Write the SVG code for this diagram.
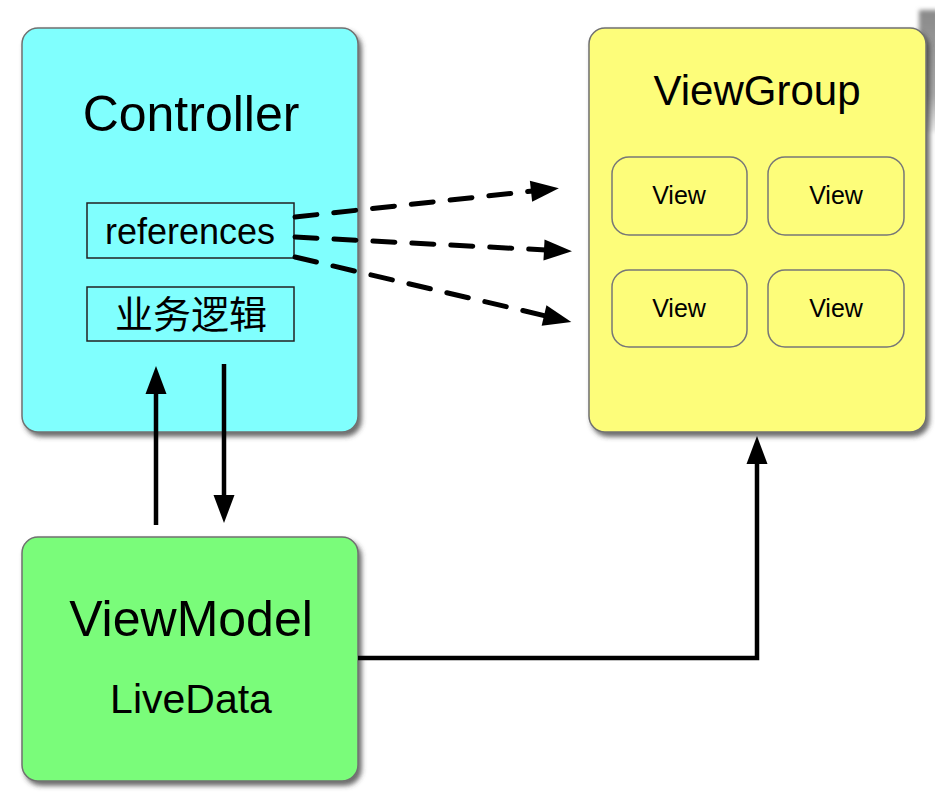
<svg xmlns="http://www.w3.org/2000/svg" width="935" height="806" viewBox="0 0 935 806">
  <defs>
    <filter id="shadow" x="-10%" y="-10%" width="125%" height="125%">
      <feDropShadow dx="3" dy="4" stdDeviation="2.5" flood-color="#3a3a3a" flood-opacity="0.75"/>
    </filter>
    <filter id="soft" x="-50%" y="-20%" width="200%" height="140%">
      <feGaussianBlur stdDeviation="2"/>
    </filter>
    <linearGradient id="edgeFade" x1="0" y1="0" x2="0" y2="1">
      <stop offset="0" stop-color="#8a8a8a"/>
      <stop offset="0.7" stop-color="#a8a8a8"/>
      <stop offset="1" stop-color="#eeeeee"/>
    </linearGradient>
    <!-- arrowhead: the base sits on the path end, the tip points 28px beyond it -->
    <marker id="head" viewBox="0 0 28 21" refX="2" refY="10.5" markerWidth="28" markerHeight="21" markerUnits="userSpaceOnUse" orient="auto" overflow="visible">
      <path d="M0,0 L28,10.5 L0,21 Z" fill="#000"/>
    </marker>
  </defs>
  <style>
    .box { stroke: #707070; stroke-width: 1.5; filter: url(#shadow); }
    .inner { fill: none; stroke: #222; stroke-width: 1.5; }
    .view { fill: #fdfd7a; stroke: #777; stroke-width: 1.5; }
    text { font-family: "Liberation Sans", "Noto Sans CJK SC", Arial, sans-serif; fill: #000; text-anchor: middle; }
    .solid { fill: none; stroke: #000; stroke-width: 4.5; marker-end: url(#head); }
    .dashed { fill: none; stroke: #000; stroke-width: 5; stroke-dasharray: 22 17; stroke-linecap: round; marker-end: url(#head); }
  </style>

  <rect width="935" height="806" fill="#fff"/>
  <!-- window edge at the top right -->
  <rect x="919" y="10" width="20" height="122" fill="url(#edgeFade)" filter="url(#soft)"/>

  <g id="controller">
    <rect class="box" x="22" y="28" width="336" height="404" rx="16" fill="#80fffe"/>
    <text x="191" y="131" font-size="50">Controller</text>
    <rect class="inner" x="87" y="203" width="207" height="55"/>
    <text x="190" y="244" font-size="36">references</text>
    <rect class="inner" x="87" y="287" width="207" height="54"/>
    <text x="191" y="328" font-size="38">业务逻辑</text>
  </g>

  <g id="viewgroup">
    <rect class="box" x="589" y="28" width="337" height="404" rx="16" fill="#fdfd7a"/>
    <text x="757" y="105" font-size="42">ViewGroup</text>
    <g id="view-1">
      <rect class="view" x="612" y="157" width="135" height="78" rx="17"/>
      <text x="679" y="204" font-size="25">View</text>
    </g>
    <g id="view-2">
      <rect class="view" x="768" y="157" width="136" height="78" rx="17"/>
      <text x="836" y="204" font-size="25">View</text>
    </g>
    <g id="view-3">
      <rect class="view" x="612" y="270" width="135" height="77" rx="17"/>
      <text x="679" y="317" font-size="25">View</text>
    </g>
    <g id="view-4">
      <rect class="view" x="768" y="270" width="136" height="77" rx="17"/>
      <text x="836" y="317" font-size="25">View</text>
    </g>
  </g>

  <g id="viewmodel">
    <rect class="box" x="22" y="537" width="336" height="244" rx="16" fill="#7afc7a"/>
    <text x="191" y="636" font-size="50">ViewModel</text>
    <text x="191" y="713" font-size="41">LiveData</text>
  </g>

  <g id="connectors">
    <!-- references to the views -->
    <path class="dashed" d="M295,217 L533,191"/>
    <path class="dashed" d="M295,237 L546,250"/>
    <path class="dashed" d="M295,257 L546,316"/>
    <!-- Controller and ViewModel -->
    <path class="solid" d="M156,525 L156,392"/>
    <path class="solid" d="M224,364 L224,497"/>
    <!-- ViewModel to ViewGroup -->
    <path class="solid" d="M358,658 L757,658 L757,462" stroke-linejoin="miter"/>
  </g>
</svg>
